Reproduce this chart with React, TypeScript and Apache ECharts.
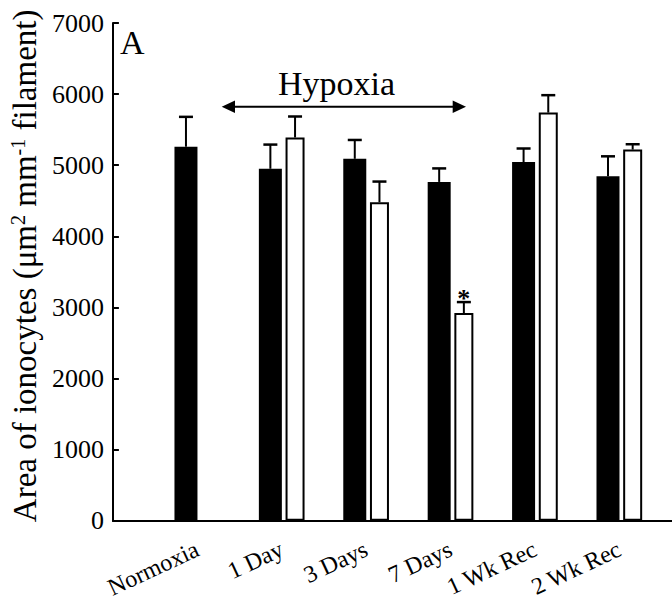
import React, { useEffect, useRef } from "react";
import * as echarts from "echarts";

// ---- data ----
const categories = ["Normoxia", "1 Day", "3 Days", "7 Days", "1 Wk Rec", "2 Wk Rec"];
const blackValues = [5260, 4950, 5090, 4765, 5045, 4845];
const blackErrors = [420, 340, 265, 190, 190, 280];
const whiteValues: (number | null)[] = [null, 5390, 4480, 2920, 5740, 5220];
const whiteErrors: (number | null)[] = [null, 295, 290, 155, 245, 75];
const whiteMarks = ["", "", "", "*", "", ""];
const yMin = 0;
const yMax = 7000;
const yStep = 1000;

// ---- style / layout constants ----
const FONT = "Liberation Serif";
const BLACK_W = 23;
const WHITE_W = 19;
const GAP_PCT = 0.16;
const X_MAX = 6.624; // axis extends to the right edge beyond last group

const gapPx = BLACK_W * GAP_PCT;
const groupW = BLACK_W + gapPx + WHITE_W;
const blackOffset = -groupW / 2 + BLACK_W / 2;
const whiteOffset = -groupW / 2 + BLACK_W + gapPx + WHITE_W / 2;

function errorRenderer(offset: number, marks: string[] | null) {
  return (params: any, api: any) => {
    const x = api.value(0);
    const v = api.value(1);
    const e = api.value(2);
    if (isNaN(v) || isNaN(e)) return null;
    const base = api.coord([x, v]);
    const top = api.coord([x, v + e]);
    const cx = base[0] + offset;
    const children: any[] = [
      {
        type: "line",
        shape: { x1: cx, y1: base[1], x2: cx, y2: top[1] },
        style: { stroke: "#000", lineWidth: 2 },
      },
      {
        type: "line",
        shape: { x1: cx - 7, y1: top[1], x2: cx + 7, y2: top[1] },
        style: { stroke: "#000", lineWidth: 2.5 },
      },
    ];
    const mark = marks ? marks[Math.round(x) - 1] : "";
    if (mark) {
      children.push({
        type: "text",
        x: cx,
        y: top[1] - 4,
        style: {
          text: mark,
          fill: "#000",
          fontSize: 26,
          fontFamily: FONT,
          fontWeight: "bold",
          align: "center",
          verticalAlign: "middle",
        },
      });
    }
    return { type: "group", children };
  };
}

export default function App() {
  const ref = useRef<HTMLDivElement>(null);

  useEffect(() => {
    if (!ref.current) return;
    const chart = echarts.init(ref.current, null, { renderer: "svg" });

    const blackData = blackValues.map((v, i) => [i + 1, v]);
    const whiteData = whiteValues.map((v, i) => [i + 1, v == null ? "-" : v]);
    const blackErrData = blackValues.map((v, i) => [i + 1, v, blackErrors[i]]);
    const whiteErrData = whiteValues.map((v, i) => [
      i + 1,
      v == null ? "-" : v,
      whiteErrors[i] == null ? "-" : whiteErrors[i],
    ]);

    chart.setOption({
      animation: false,
      backgroundColor: "#fff",
      textStyle: { fontFamily: FONT },
      grid: { left: 109, right: 0, top: 23, bottom: 79, containLabel: false },
      xAxis: {
        type: "value",
        min: 0,
        max: X_MAX,
        interval: 1,
        axisLine: { show: true, onZero: false, lineStyle: { color: "#000", width: 2 } },
        axisTick: { show: false },
        splitLine: { show: false },
        axisLabel: {
          rotate: 25,
          margin: 27,
          color: "#000",
          fontFamily: FONT,
          fontSize: 24,
          showMinLabel: false,
          showMaxLabel: false,
          formatter: (val: number) => {
            const idx = Math.round(val) - 1;
            if (Math.abs(val - Math.round(val)) > 1e-6) return "";
            return categories[idx] ?? "";
          },
        },
      },
      yAxis: {
        type: "value",
        min: yMin,
        max: yMax,
        interval: yStep,
        name: "Area of ionocytes (μm{sup|2} mm{sup|-1} filament)",
        nameLocation: "middle",
        nameGap: 58,
        nameTextStyle: {
          color: "#000",
          fontFamily: FONT,
          fontSize: 33,
          padding: [0, 0, 0, 12],
          rich: {
            sup: { fontSize: 20, fontFamily: FONT, color: "#000", verticalAlign: "top" },
          },
        },
        axisLine: { show: true, onZero: false, lineStyle: { color: "#000", width: 2 } },
        axisTick: { show: true, inside: true, length: 6, lineStyle: { color: "#000", width: 2 } },
        splitLine: { show: false },
        axisLabel: {
          color: "#000",
          fontFamily: FONT,
          fontSize: 26,
          margin: 9,
          formatter: (v: number) => String(v),
        },
      },
      graphic: [
        {
          type: "text",
          x: 120,
          y: 42,
          style: { text: "A", fill: "#000", fontSize: 34, fontFamily: FONT, align: "left", verticalAlign: "middle" },
        },
        {
          type: "text",
          x: 336.5,
          y: 83.5,
          style: { text: "Hypoxia", fill: "#000", fontSize: 34, fontFamily: FONT, align: "center", verticalAlign: "middle" },
        },
        {
          type: "line",
          shape: { x1: 232, y1: 106.7, x2: 456, y2: 106.7 },
          style: { stroke: "#000", lineWidth: 2 },
        },
        {
          type: "polygon",
          shape: { points: [[221.7, 106.7], [235, 100.5], [235, 112.9]] },
          style: { fill: "#000" },
        },
        {
          type: "polygon",
          shape: { points: [[466, 106.7], [452.7, 100.5], [452.7, 112.9]] },
          style: { fill: "#000" },
        },
      ],
      series: [
        {
          type: "bar",
          name: "black",
          data: blackData,
          barWidth: BLACK_W,
          barGap: `${GAP_PCT * 100}%`,
          itemStyle: { color: "#000" },
          z: 2,
        },
        {
          type: "bar",
          name: "white",
          data: whiteData,
          barWidth: WHITE_W,
          barGap: `${GAP_PCT * 100}%`,
          itemStyle: { color: "#fff", borderColor: "#000", borderWidth: 2 },
          z: 2,
        },
        {
          type: "custom",
          name: "black-err",
          data: blackErrData,
          encode: { x: 0, y: 1 },
          renderItem: errorRenderer(blackOffset, null),
          z: 3,
        },
        {
          type: "custom",
          name: "white-err",
          data: whiteErrData,
          encode: { x: 0, y: 1 },
          renderItem: errorRenderer(whiteOffset, whiteMarks),
          z: 3,
        },
      ],
    });

    return () => chart.dispose();
  }, []);

  return (
    <div
      ref={ref}
      style={{ position: "fixed", left: 0, top: 0, width: 672, height: 601, background: "#fff" }}
    />
  );
}
